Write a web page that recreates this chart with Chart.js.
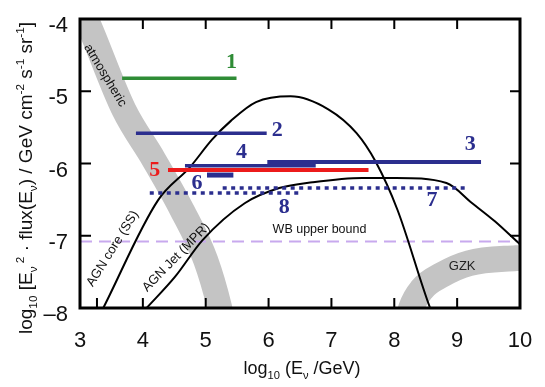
<!DOCTYPE html>
<html>
<head>
<meta charset="utf-8">
<script src="https://cdn.jsdelivr.net/npm/chart.js@4.4.0/dist/chart.umd.min.js"></script>
<style>
  html, body { margin: 0; padding: 0; background: #fff; }
  #wrap { width: 545px; height: 387px; }
</style>
</head>
<body>
<div id="wrap"><canvas id="chart"></canvas></div>
<script>
// numbered sensitivity limits: horizontal bars in log10(E) from..to at a flux level
const limitNames = ["1", "2", "3", "4", "5", "6", "7", "8"];
const limitFrom  = [3.67, 3.89, 5.98, 4.67, 4.40, 5.02, 5.27, 4.11];
const limitTo    = [5.49, 5.97, 9.38, 6.75, 7.59, 5.44, 9.16, 6.49];
const limitLevel = [-4.82, -5.58, -5.98, -6.03, -6.09, -6.16, -6.34, -6.41];

// model curves
const coreX = [3.37, 4.24, 4.75, 5.10, 5.40, 5.80, 6.35, 6.95, 7.40, 7.70, 8.05, 8.57, 8.62];
const coreY = [-8.0, -6.51, -6.05, -5.67, -5.41, -5.15, -5.07, -5.25, -5.58, -5.97, -6.64, -8.0, -8.1];
const jetX = [4.06, 4.51, 4.95, 5.62, 6.17, 6.70, 7.49, 8.03, 8.83, 9.24, 9.60, 10.0];
const jetY = [-8.0, -7.57, -7.06, -6.55, -6.34, -6.26, -6.20, -6.20, -6.27, -6.55, -6.80, -7.12];

// shaded bands (centre lines)
const atmoX = [3.02, 3.13, 3.70, 4.17, 4.62, 5.00, 5.22, 5.27];
const atmoY = [-3.85, -4.06, -5.26, -5.94, -6.64, -7.34, -7.99, -8.2];
const gzkX = [8.20, 8.27, 8.44, 8.76, 9.19, 9.94, 10.2];
const gzkY = [-8.25, -8.0, -7.74, -7.54, -7.38, -7.31, -7.30];

// Waxman-Bahcall bound
const wbLevel = -7.08;

const xTicks = [3, 4, 5, 6, 7, 8, 9, 10];
const yTicks = [-8, -7, -6, -5, -4];

// styling
const NAVY = "#2b2e8e", GREEN = "#2f8c36", RED = "#ec1b1b", GREY = "#c4c4c4";
const limitColor = [GREEN, NAVY, NAVY, NAVY, RED, NAVY, NAVY, NAVY];
const limitWidth = [3.5, 3.5, 4, 3.5, 4, 5, 3.5, 3.5];
const limitDotted = [false, false, false, false, false, false, true, true];
// where the numbers go (data coords)
const limitTag = [[5.41, -4.60], [6.14, -5.54], [9.21, -5.74], [5.57, -5.84],
                  [4.19, -6.09], [4.86, -6.27], [8.60, -6.51], [6.25, -6.60]];

const SANS = "'Liberation Sans', Arial, sans-serif";
const SERIF = "'Liberation Serif', 'Times New Roman', serif";

const pts = (xs, ys) => xs.map((x, i) => ({ x, y: ys[i] }));

const datasets = [];
datasets.push({ data: pts(atmoX, atmoY), borderColor: GREY, borderWidth: 25, order: 5 });
datasets.push({ data: pts(gzkX, gzkY), borderColor: GREY, borderWidth: 26, order: 5 });
datasets.push({ data: [{ x: 3, y: wbLevel }, { x: 10, y: wbLevel }], borderColor: "#c8a9ee",
                borderWidth: 2, borderDash: [12, 7], order: 4, tension: 0 });
datasets.push({ data: pts(coreX, coreY), borderColor: "#000", borderWidth: 2, order: 3 });
datasets.push({ data: pts(jetX, jetY), borderColor: "#000", borderWidth: 2, order: 3 });
limitNames.forEach((n, i) => {
  datasets.push({
    data: [{ x: limitFrom[i], y: limitLevel[i] }, { x: limitTo[i], y: limitLevel[i] }],
    borderColor: limitColor[i],
    borderWidth: limitWidth[i],
    borderDash: limitDotted[i] ? [4, 4.5] : [],
    tension: 0,
    order: limitDotted[i] ? 2 : (i === 4 ? 1 : 0)
  });
});
datasets.forEach(d => {
  d.showLine = true;
  d.pointRadius = 0;
  d.clip = 0;
  d.borderCapStyle = "butt";
  if (d.tension === undefined) d.cubicInterpolationMode = "monotone";
});

function drawRuns(ctx, runs, x, y, angle, base) {
  ctx.save();
  ctx.translate(x, y);
  ctx.rotate(angle);
  let total = 0;
  const parts = runs.map(([t, k]) => {
    const size = k ? base * 0.62 : base;
    ctx.font = size + "px " + SANS;
    const w = ctx.measureText(t).width;
    total += w;
    return { t, k, size, w };
  });
  let cx = -total / 2;
  ctx.textAlign = "left";
  ctx.textBaseline = "alphabetic";
  parts.forEach(p => {
    ctx.font = p.size + "px " + SANS;
    const dy = p.k === "sub" ? base * 0.25 : p.k === "sup" ? -base * 0.42 : 0;
    ctx.fillText(p.t, cx, base * 0.36 + dy);
    cx += p.w;
  });
  ctx.restore();
}

function plainText(ctx, text, x, y, angle, font, color) {
  ctx.save();
  ctx.translate(x, y);
  ctx.rotate(angle);
  ctx.font = font;
  ctx.fillStyle = color;
  ctx.textAlign = "center";
  ctx.textBaseline = "middle";
  ctx.fillText(text, 0, 0);
  ctx.restore();
}

const decorations = {
  id: "decorations",
  afterDatasetsDraw(chart) {
    const ctx = chart.ctx;
    const xs = chart.scales.x, ys = chart.scales.y;
    const { left, right, top, bottom } = chart.chartArea;
    const X = v => xs.getPixelForValue(v), Y = v => ys.getPixelForValue(v);

    // frame and inward ticks
    ctx.save();
    ctx.strokeStyle = "#000";
    ctx.lineWidth = 3;
    ctx.strokeRect(left, top, right - left, bottom - top);
    ctx.lineWidth = 2;
    ctx.beginPath();
    [3.27, 4, 5, 6, 7, 8, 9].forEach(v => { ctx.moveTo(X(v), bottom); ctx.lineTo(X(v), bottom - 10); });
    [4, 5, 6, 7, 8, 9].forEach(v => { ctx.moveTo(X(v), top); ctx.lineTo(X(v), top + 10); });
    [-5, -6, -7].forEach(v => {
      ctx.moveTo(left, Y(v)); ctx.lineTo(left + 11, Y(v));
      ctx.moveTo(right, Y(v)); ctx.lineTo(right - 10, Y(v));
    });
    ctx.stroke();
    ctx.restore();

    // numbered labels
    limitNames.forEach((n, i) => {
      plainText(ctx, n, X(limitTag[i][0]), Y(limitTag[i][1]), 0, "bold 22px " + SERIF, limitColor[i]);
    });

    plainText(ctx, "WB upper bound", X(6.81), Y(-6.91), 0, "12.5px " + SANS, "#111");
    plainText(ctx, "GZK", X(9.08), Y(-7.43), 0, "13px " + SANS, "#222");
    plainText(ctx, "atmospheric", X(3.40), Y(-4.78), 58.8 * Math.PI / 180, "13px " + SANS, "#111");
    plainText(ctx, "AGN core (SS)", X(3.52), Y(-7.18), -57.9 * Math.PI / 180, "13px " + SANS, "#111");
    plainText(ctx, "AGN Jet (MPR)", X(4.53), Y(-7.30), -45.8 * Math.PI / 180, "13px " + SANS, "#111");

    // axis titles
    ctx.fillStyle = "#111";
    drawRuns(ctx, [["log", ""], ["10", "sub"], [" (E", ""], ["\u03bd", "sub"], [" /GeV)", ""]],
             302, 368, 0, 18);
    drawRuns(ctx, [["log", ""], ["10", "sub"], [" [E", ""], ["\u03bd", "sub"], [" 2", "sup"],
                   [" \u00b7 flux(E", ""], ["\u03bd", "sub"], [") / GeV cm", ""], ["-2", "sup"],
                   [" s", ""], ["-1", "sup"], [" sr", ""], ["-1", "sup"], ["]", ""]],
             25, 178, -Math.PI / 2, 19);
  }
};

new Chart(document.getElementById("chart"), {
  type: "scatter",
  data: { datasets },
  options: {
    responsive: true,
    maintainAspectRatio: false,
    animation: false,
    layout: { padding: { left: 0, top: 19, right: 25, bottom: 0 } },
    plugins: { legend: { display: false }, tooltip: { enabled: false } },
    scales: {
      x: {
        type: "linear", min: 3, max: 10,
        afterBuildTicks: s => { s.ticks = xTicks.map(v => ({ value: v })); },
        afterFit: s => { s.height = 79; s.paddingLeft = 0; s.paddingRight = 0; },
        grid: { display: false, drawTicks: false },
        border: { display: false },
        ticks: { font: { size: 22, family: SANS }, color: "#111", padding: 20,
                 autoSkip: false, maxRotation: 0, callback: v => String(v) }
      },
      y: {
        type: "linear", min: -8, max: -4,
        afterBuildTicks: s => { s.ticks = yTicks.map(v => ({ value: v })); },
        afterFit: s => { s.width = 80; s.paddingTop = 0; s.paddingBottom = 0; },
        grid: { display: false, drawTicks: false },
        border: { display: false },
        ticks: { font: { size: 22, family: SANS }, color: "#111", padding: 12, labelOffset: 7,
                 autoSkip: false, callback: v => v === -8 ? "\u20138" : String(v) }
      }
    }
  },
  plugins: [decorations]
});
</script>
</body>
</html>
